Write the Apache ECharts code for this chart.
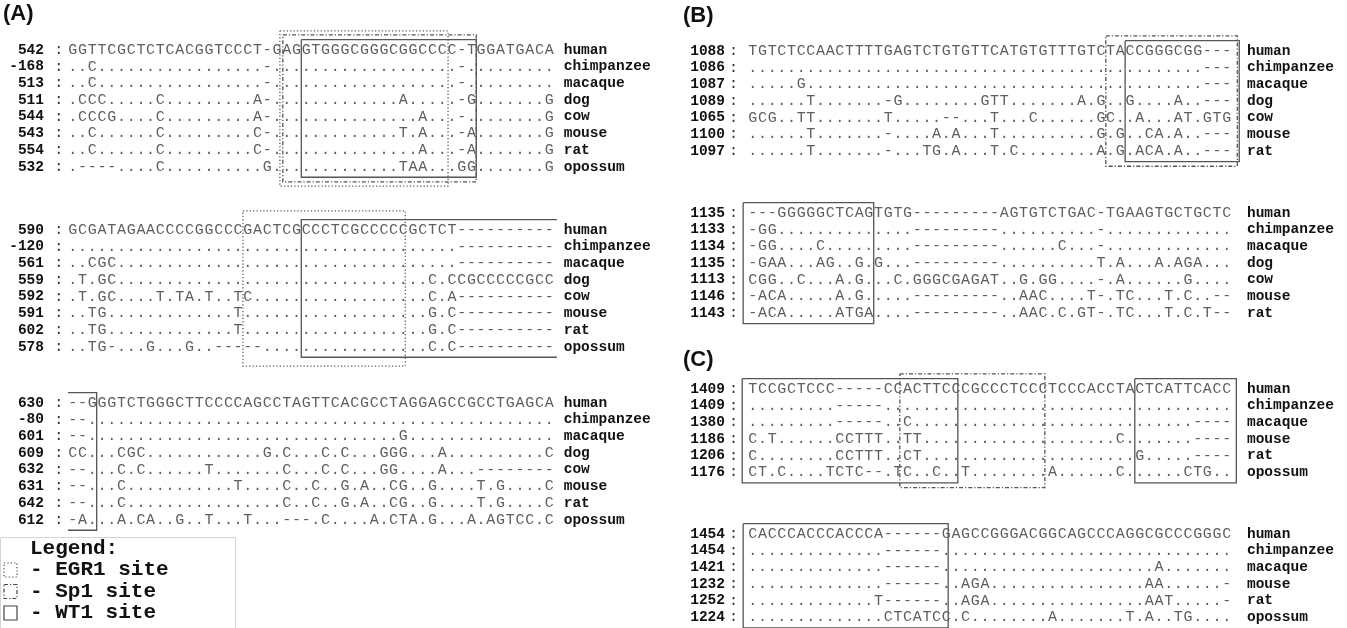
<!DOCTYPE html>
<html><head><meta charset="utf-8">
<script src="https://cdn.jsdelivr.net/npm/echarts/dist/echarts.min.js"></script>
<style>html,body{margin:0;padding:0;background:#fff}#c{width:1347px;height:628px}</style>
</head><body><div id="c"></div>
<script>
// ---------- DATA ----------
const speciesA = ["human","chimpanzee","macaque","dog","cow","mouse","rat","opossum"];
const speciesB = ["human","chimpanzee","macaque","dog","cow","mouse","rat"];
const speciesC = ["human","chimpanzee","macaque","mouse","rat","opossum"];

const A1_nums = ["542","-168","513","511","544","543","554","532"];
const A1_seq = [
 "GGTTCGCTCT CACGGTCCCT -GAGGTGGGC GGGCGGCCCC -TGGATGACA",
 "..C....... .......... -......... .......... -.........",
 "..C....... .......... -......... .......... -.........",
 ".CCC.....C .........A -......... ....A..... -G.......G",
 ".CCCG....C .........A -......... ......A... -........G",
 "..C......C .........C -......... ....T.A... -A.......G",
 "..C......C .........C -......... ......A... -A.......G",
 ".----....C .......... G......... ....TAA... GG.......G"
];
const A1_sites = [[21.8,39.1,"EGR1","closed"],[22.1,42,"Sp1","closed"],[24,42,"WT1","closed"]];

const A2_nums = ["590","-120","561","559","592","591","602","578"];
const A2_seq = [
 "GCGATAGAAC CCCGGCCCGA CTCGCCCTCG CCCCCGCTCT ----------",
 ".......... .......... .......... .......... ----------",
 "..CGC..... .......... .......... .......... ----------",
 ".T.GC..... .......... .......... .......C.C CGCCCCCGCC",
 ".T.GC....T .TA.T..TC. .......... .......C.A ----------",
 "..TG...... .......T.. .......... .......G.C ----------",
 "..TG...... .......T.. .......... .......G.C ----------",
 "..TG-...G. ..G..----- .......... .......C.C ----------"
];
const A2_sites = [[18,34.7,"EGR1","closed"],[24,50.3,"WT1","openRight"]];

const A3_nums = ["630","-80","601","609","632","631","642","612"];
const A3_seq = [
 "--GGGTCTGG GCTTCCCCAG CCTAGTTCAC GCCTAGGAGC CGCCTGAGCA",
 "--........ .......... .......... .......... ..........",
 "--........ .......... .......... ....G..... ..........",
 "CC...CGC.. .......... G.C...C.C. ..GGG...A. .........C",
 "--...C.C.. ....T..... ..C...C.C. ..GG....A. ..--------",
 "--...C.... .......T.. ..C..C..G. A..CG..G.. ..T.G....C",
 "--...C.... .......... ..C..C..G. A..CG..G.. ..T.G....C",
 "-A...A.CA. .G..T...T. ..---.C... .A.CTA.G.. .A.AGTCC.C"
];
const A3_sites = [[0,2.95,"WT1","openLeft"]];

const B1_nums = ["1088","1086","1087","1089","1065","1100","1097"];
const B1_seq = [
 "TGTCTCCAAC TTTTGAGTCT GTGTTCATGT GTTTGTCTAC CGGGCGG---",
 ".......... .......... .......... .......... .......---",
 ".....G.... .......... .......... .......... .......---",
 "......T... ....-G.... ....GTT... ....A.G..G ....A..---",
 "GCG..TT... ....T..... --...T...C ......GC.. A...AT.GTG",
 "......T... ....-....A .A...T.... ......G.G. .CA.A..---",
 "......T... ....-...TG .A...T.C.. ......A.G. ACA.A..---"
];
const B1_sites = [[37,50.6,"Sp1","closed"],[39,50.8,"WT1","closed"]];

const B2_nums = ["1135","1133","1134","1135","1113","1146","1143"];
const B2_seq = [
 "---GGGGGCT CAGTGTG--- ------AGTG TCTGAC-TGA AGTGCTGCTC",
 "-GG....... .......--- ------.... ......-... ..........",
 "-GG....C.. .......--- ------.... ..C...-... ..........",
 "-GAA...AG. .G.G...--- ------.... ......T.A. ..A.AGA...",
 "CGG..C...A .G...C.GGG CGAGAT..G. GG....-.A. .....G....",
 "-ACA.....A .G.....--- ------..AA C....T-.TC ...T.C..--",
 "-ACA.....A TGA....--- ------..AA C.C.GT-.TC ...T.C.T--"
];
const B2_sites = [[-0.5,13,"WT1","closed"]];

const C1_nums = ["1409","1409","1380","1186","1206","1176"];
const C1_seq = [
 "TCCGCTCCC- ----CCACTT CCCGCCCTCC CTCCCACCTA CTCATTCACC",
 ".........- ----...... .......... .......... ..........",
 ".........- ----..C... .......... .......... ......----",
 "C.T......C CTTT..TT.. .......... ........C. ......----",
 "C........C CTTT..CT.. .......... .......... G.....----",
 "CT.C....TC TC--.TC..C ..T....... .A......C. .....CTG.."
];
const C1_sites = [[-0.6,21.7,"WT1","closed"],[15.7,30.7,"Sp1","closed"],[40,50.5,"WT1","closed"]];

const C2_nums = ["1454","1454","1421","1232","1252","1224"];
const C2_seq = [
 "CACCCACCCA CCCA------ GAGCCGGGAC GGCAGCCCAG GCGCCCGGGC",
 ".......... ....------ .......... .......... ..........",
 ".......... ....------ .......... .......... ..A.......",
 ".......... ....------ ..AGA..... .......... .AA......-",
 ".......... ...T------ ..AGA..... .......... .AAT.....-",
 ".......... ....CTCATC C.C....... .A.......T .A..TG...."
];
const C2_sites = [[-0.5,20.7,"WT1","closed"]];

const panelTitles = ["(A)","(B)","(C)"];
const legendTitle = "Legend:";
const legendItems = [["EGR1","- EGR1 site"],["Sp1","- Sp1 site"],["WT1","- WT1 site"]];

// ---------- LAYOUT / STYLE ----------
const ROW_H = 16.7;
const SEQ_FONT = '15px "Liberation Mono", "DejaVu Sans Mono", monospace';
const BOLD_FONT = 'bold 14.5px "Liberation Mono", "DejaVu Sans Mono", monospace';
const SEQ_COLOR = '#5e5e5e';
const LINE_COLOR = '#555555';
const DASH = {EGR1:[1.2,2.2], Sp1:[4,2,1.2,2], WT1:null};
const PAD = {EGR1:1.15, Sp1:0.9, WT1:0.62};
const TYPES = ["EGR1","Sp1","WT1"];
const OPEN = ["closed","openRight","openLeft"];

const panelA = {left:68, pitch:9.72, numX:-2.47, colonX:-0.95, nameX:51.0};
const panelBC = {left:748, pitch:9.67, numX:-2.38, colonX:-1.5, nameX:51.6};

const blocks = [
  {p:panelA, y0:50,  seq:A1_seq, nums:A1_nums, names:speciesA, sites:A1_sites},
  {p:panelA, y0:230, seq:A2_seq, nums:A2_nums, names:speciesA, sites:A2_sites},
  {p:panelA, y0:403, seq:A3_seq, nums:A3_nums, names:speciesA, sites:A3_sites},
  {p:panelBC, y0:51, seq:B1_seq, nums:B1_nums, names:speciesB, sites:B1_sites},
  {p:panelBC, y0:213, seq:B2_seq, nums:B2_nums, names:speciesB, sites:B2_sites},
  {p:panelBC, y0:389, seq:C1_seq, nums:C1_nums, names:speciesC, sites:C1_sites},
  {p:panelBC, y0:534, seq:C2_seq, nums:C2_nums, names:speciesC, sites:C2_sites}
];

const grids=[], xAxes=[], yAxes=[], series=[];

function textSeries(gi, pts, texts, font, color, align){
  return {type:'custom', coordinateSystem:'cartesian2d', xAxisIndex:gi, yAxisIndex:gi,
    silent:true, animation:false, clip:false, data:pts,
    renderItem:function(params, api){
      const p = api.coord([api.value(0), api.value(1)]);
      return {type:'text', x:p[0], y:p[1],
        style:{text:texts[params.dataIndex], font:font, fill:color, align:align, verticalAlign:'middle'}};
    }};
}

blocks.forEach(function(b, gi){
  const rows = b.seq.map(function(s){return s.replace(/ /g,'');});
  const ncols = rows[0].length;
  const nrows = rows.length;
  grids.push({left:b.p.left, top:b.y0 - ROW_H/2, width:ncols*b.p.pitch, height:nrows*ROW_H, show:false});
  xAxes.push({type:'value', gridIndex:gi, min:0, max:ncols, show:false});
  yAxes.push({type:'value', gridIndex:gi, min:-0.5, max:nrows-0.5, inverse:true, show:false});
  const pts=[], txt=[];
  rows.forEach(function(r, ri){
    for(let c=0;c<r.length;c++){ pts.push([c+0.5, ri]); txt.push(r[c]); }
  });
  series.push(textSeries(gi, pts, txt, SEQ_FONT, SEQ_COLOR, 'center'));
  series.push(textSeries(gi, b.nums.map(function(_,i){return [b.p.numX,i];}), b.nums, BOLD_FONT, '#111', 'right'));
  series.push(textSeries(gi, b.nums.map(function(_,i){return [b.p.colonX,i];}), b.nums.map(function(){return ':';}), SEQ_FONT, '#333', 'center'));
  series.push(textSeries(gi, b.names.map(function(_,i){return [b.p.nameX,i];}), b.names, BOLD_FONT, '#111', 'left'));
  const boxData = b.sites.map(function(s){
    const pad = PAD[s[2]];
    return [s[0], s[1], -pad, nrows-1+pad, TYPES.indexOf(s[2]), OPEN.indexOf(s[3])];
  });
  series.push({type:'custom', coordinateSystem:'cartesian2d', xAxisIndex:gi, yAxisIndex:gi,
    silent:true, animation:false, clip:false, data:boxData,
    renderItem:function(params, api){
      const a = api.coord([api.value(0), api.value(2)]);
      const c = api.coord([api.value(1), api.value(3)]);
      const t = TYPES[api.value(4)], o = api.value(5);
      let pts;
      if(o===1) pts=[[c[0],a[1]],[a[0],a[1]],[a[0],c[1]],[c[0],c[1]]];
      else if(o===2) pts=[[a[0],a[1]],[c[0],a[1]],[c[0],c[1]],[a[0],c[1]]];
      else pts=[[a[0],a[1]],[c[0],a[1]],[c[0],c[1]],[a[0],c[1]],[a[0],a[1]]];
      return {type:'polyline', shape:{points:pts},
        style:{stroke:LINE_COLOR, lineWidth:1.3, fill:null, lineDash:DASH[t]}};
    }});
});

const LEG_FONT = 'bold 21px "Liberation Mono", "DejaVu Sans Mono", monospace';
const TITLE_FONT = 'bold 22px "Liberation Sans", Arial, sans-serif';
const graphic = [
  {type:'text', x:3, y:14, style:{text:panelTitles[0], font:TITLE_FONT, fill:'#111', verticalAlign:'middle'}},
  {type:'text', x:683, y:16, style:{text:panelTitles[1], font:TITLE_FONT, fill:'#111', verticalAlign:'middle'}},
  {type:'text', x:683, y:360, style:{text:panelTitles[2], font:TITLE_FONT, fill:'#111', verticalAlign:'middle'}},
  {type:'rect', shape:{x:0.5, y:537.5, width:235, height:95}, style:{stroke:'#d4d4d4', fill:'none', lineWidth:1}},
  {type:'text', x:30, y:549, style:{text:legendTitle, font:LEG_FONT, fill:'#111', verticalAlign:'middle'}}
];
legendItems.forEach(function(it, i){
  const yc = 570 + i*21.5;
  graphic.push({type:'rect', shape:{x:4, y:yc-7, width:13, height:14}, style:{stroke:'#444', fill:'none', lineWidth:1.2, lineDash:DASH[it[0]]}});
  graphic.push({type:'text', x:30, y:yc, style:{text:it[1], font:LEG_FONT, fill:'#111', verticalAlign:'middle'}});
});

const chart = echarts.init(document.getElementById('c'), null, {renderer:'canvas'});
chart.setOption({animation:false, backgroundColor:'#fff', grid:grids, xAxis:xAxes, yAxis:yAxes, series:series, graphic:graphic});
</script></body></html>
